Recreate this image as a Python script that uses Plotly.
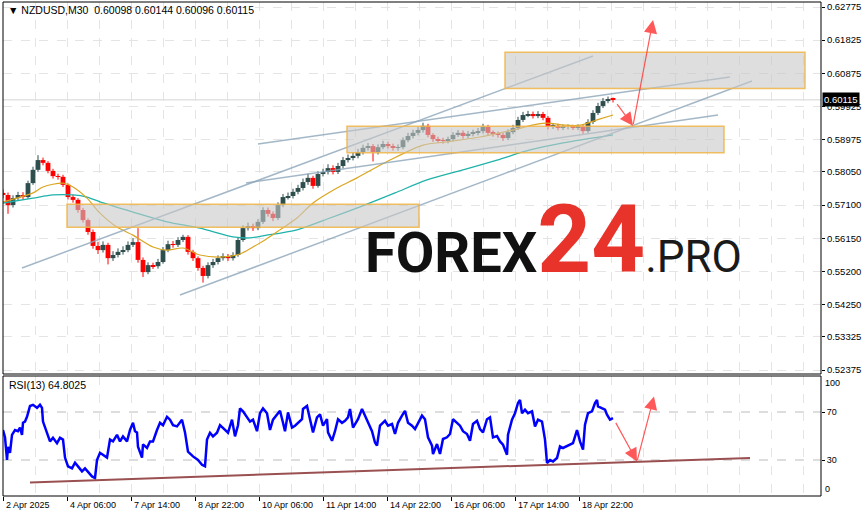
import plotly.graph_objects as go

# ---------------- data ----------------
# time axis: M30 bar index (weekends skipped), labels every 64 bars
tick_bars = [0, 64, 128, 192, 256, 320, 384, 448, 512, 576]
tick_labels = ["2 Apr 2025", "4 Apr 06:00", "7 Apr 14:00", "8 Apr 22:00", "10 Apr 06:00",
               "11 Apr 14:00", "14 Apr 22:00", "16 Apr 06:00", "17 Apr 14:00", "18 Apr 22:00"]

price_ticks = [0.62775, 0.61825, 0.60875, 0.59925, 0.58975, 0.58050,
               0.57100, 0.56150, 0.55200, 0.54250, 0.53325, 0.52375]

# candles, each one groups 5 M30 bars
closes = [0.5739, 0.5710, 0.5730, 0.5739, 0.5733, 0.5773, 0.5811, 0.5839, 0.5831, 0.5808,
          0.5793, 0.5791, 0.5768, 0.5733, 0.5725, 0.5696, 0.5667, 0.5633, 0.5593, 0.5581,
          0.5596, 0.5558, 0.5567, 0.5576, 0.5581, 0.5596, 0.5604, 0.5553, 0.5518, 0.5538,
          0.5535, 0.5547, 0.5581, 0.5598, 0.5596, 0.5610, 0.5619, 0.5576, 0.5558, 0.5530,
          0.5507, 0.5538, 0.5547, 0.5558, 0.5564, 0.5558, 0.5567, 0.5610, 0.5644, 0.5650,
          0.5644, 0.5662, 0.5696, 0.5685, 0.5673, 0.5710, 0.5733, 0.5736, 0.5748, 0.5759,
          0.5776, 0.5788, 0.5765, 0.5799, 0.5805, 0.5816, 0.5805, 0.5822, 0.5839, 0.5845,
          0.5851, 0.5862, 0.5874, 0.5879, 0.5862, 0.5876, 0.5885, 0.5879, 0.5874, 0.5876,
          0.5896, 0.5908, 0.5917, 0.5925, 0.5937, 0.5911, 0.5899, 0.5896, 0.5894, 0.5899,
          0.5911, 0.5917, 0.5908, 0.5914, 0.5917, 0.5922, 0.5934, 0.5917, 0.5914, 0.5911,
          0.5902, 0.5919, 0.5931, 0.5954, 0.5968, 0.5971, 0.5965, 0.5971, 0.5960, 0.5934,
          0.5937, 0.5931, 0.5934, 0.5934, 0.5931, 0.5934, 0.5922, 0.5948, 0.5974, 0.5994,
          0.6008, 0.6014, 0.60115]
highs = [0.5755, 0.5746, 0.5738, 0.5748, 0.5747, 0.5780, 0.5820, 0.5853, 0.5846, 0.5836,
         0.5814, 0.5800, 0.5797, 0.5772, 0.5740, 0.5730, 0.5702, 0.5672, 0.5640, 0.5605,
         0.5606, 0.5602, 0.5578, 0.5586, 0.5592, 0.5606, 0.5615, 0.5644, 0.5560, 0.5546,
         0.5545, 0.5556, 0.5590, 0.5608, 0.5607, 0.5618, 0.5625, 0.5624, 0.5582, 0.5563,
         0.5536, 0.5546, 0.5556, 0.5566, 0.5572, 0.5570, 0.5575, 0.5618, 0.5652, 0.5660,
         0.5657, 0.5670, 0.5704, 0.5703, 0.5692, 0.5718, 0.5742, 0.5746, 0.5757, 0.5768,
         0.5786, 0.5800, 0.5794, 0.5807, 0.5814, 0.5827, 0.5824, 0.5831, 0.5848, 0.5855,
         0.5861, 0.5871, 0.5883, 0.5888, 0.5885, 0.5884, 0.5894, 0.5892, 0.5886, 0.5884,
         0.5904, 0.5917, 0.5926, 0.5934, 0.5946, 0.5943, 0.5916, 0.5906, 0.5903, 0.5906,
         0.5919, 0.5925, 0.5924, 0.5922, 0.5926, 0.5931, 0.5943, 0.5940, 0.5924, 0.5921,
         0.5917, 0.5927, 0.5940, 0.5963, 0.5977, 0.5980, 0.5978, 0.5979, 0.5977, 0.5965,
         0.5945, 0.5943, 0.5941, 0.5941, 0.5940, 0.5941, 0.5939, 0.5956, 0.5982, 0.6003,
         0.6017, 0.6021, 0.6018]
lows = [0.5730, 0.5685, 0.5703, 0.5724, 0.5725, 0.5728, 0.5768, 0.5805, 0.5824, 0.5801,
        0.5786, 0.5783, 0.5762, 0.5726, 0.5717, 0.5688, 0.5660, 0.5625, 0.5585, 0.5570,
        0.5574, 0.5540, 0.5550, 0.5560, 0.5568, 0.5575, 0.5590, 0.5545, 0.5504, 0.5512,
        0.5527, 0.5528, 0.5542, 0.5575, 0.5588, 0.5590, 0.5604, 0.5568, 0.5550, 0.5522,
        0.5488, 0.5500, 0.5530, 0.5540, 0.5551, 0.5550, 0.5551, 0.5562, 0.5605, 0.5637,
        0.5636, 0.5638, 0.5656, 0.5677, 0.5664, 0.5667, 0.5704, 0.5726, 0.5729, 0.5741,
        0.5752, 0.5768, 0.5757, 0.5760, 0.5792, 0.5798, 0.5798, 0.5799, 0.5815, 0.5832,
        0.5838, 0.5844, 0.5855, 0.5866, 0.5835, 0.5855, 0.5870, 0.5872, 0.5866, 0.5866,
        0.5870, 0.5890, 0.5901, 0.5910, 0.5918, 0.5904, 0.5891, 0.5888, 0.5886, 0.5887,
        0.5893, 0.5905, 0.5900, 0.5901, 0.5907, 0.5910, 0.5915, 0.5909, 0.5906, 0.5903,
        0.5894, 0.5896, 0.5913, 0.5925, 0.5948, 0.5962, 0.5958, 0.5959, 0.5953, 0.5927,
        0.5928, 0.5924, 0.5925, 0.5927, 0.5925, 0.5925, 0.5914, 0.5917, 0.5942, 0.5968,
        0.5988, 0.6002, 0.6004]
first_open = 0.5745
opens = [first_open] + closes[:-1]
candle_bars = [5 * i for i in range(len(closes))]

# moving averages
ma_fast_bars = [0, 30, 40, 60, 70, 84, 97, 114, 130, 150, 164, 180, 197, 217, 237, 250, 262,
                277, 294, 310, 334, 354, 387, 420, 444, 477, 510, 534, 544, 562, 577, 594, 610]
ma_fast_vals = [0.5719, 0.5745, 0.5762, 0.5773, 0.5762, 0.5730, 0.5687, 0.5647, 0.5624, 0.5590,
                0.5581, 0.5587, 0.5567, 0.5561, 0.5570, 0.5590, 0.5610, 0.5639, 0.5673, 0.5716,
                0.5759, 0.5788, 0.5839, 0.5882, 0.5891, 0.5905, 0.5925, 0.5942, 0.5945, 0.5939,
                0.5939, 0.5954, 0.5968]
ma_slow_bars = [0, 30, 50, 70, 84, 97, 130, 164, 197, 230, 247, 260, 294, 327, 357, 392, 424,
                460, 494, 527, 560, 610]
ma_slow_vals = [0.5716, 0.5730, 0.5739, 0.5739, 0.5733, 0.5719, 0.5690, 0.5662, 0.5644, 0.5619,
                0.5616, 0.5622, 0.5639, 0.5673, 0.5705, 0.5745, 0.5782, 0.5811, 0.5839, 0.5868,
                0.5888, 0.5911]

# RSI(13)
rsi_bars = [0, 2, 4, 5, 7, 9, 12, 15, 17, 19, 20, 22, 24, 27, 30, 34, 37, 39, 40, 42, 45, 47,
            50, 54, 57, 60, 62, 65, 69, 72, 75, 79, 82, 85, 89, 92, 94, 97, 100, 104, 107, 110,
            114, 117, 120, 124, 127, 130, 132, 134, 135, 139, 140, 144, 147, 150, 154, 157, 160,
            164, 167, 170, 174, 179, 182, 185, 190, 195, 199, 202, 204, 207, 210, 214, 217, 220,
            225, 229, 232, 235, 237, 240, 244, 247, 250, 254, 257, 260, 264, 267, 270, 274, 277,
            280, 282, 285, 289, 292, 295, 299, 300, 304, 307, 310, 314, 317, 320, 324, 325, 329,
            332, 335, 339, 342, 345, 347, 350, 355, 359, 362, 365, 369, 372, 374, 377, 379, 382,
            385, 389, 392, 395, 399, 402, 405, 409, 412, 415, 419, 422, 425, 429, 430, 434, 437,
            440, 444, 447, 450, 454, 457, 460, 464, 467, 470, 474, 477, 480, 484, 487, 490, 494,
            497, 500, 504, 505, 509, 512, 515, 517, 519, 522, 525, 529, 532, 535, 539, 542, 544,
            547, 550, 554, 557, 560, 564, 567, 570, 574, 577, 580, 582, 585, 589, 592, 594, 595,
            599, 602, 604, 607, 610]
rsi_vals = [55, 49, 30, 41, 36, 51, 55, 54, 57, 51, 61, 62, 66, 75, 76, 73.5, 76, 73.5, 62, 57,
            51, 45.5, 48.5, 44, 48.5, 47, 32, 24.7, 23, 27.7, 24.7, 20.5, 23, 20.5, 16.3, 15, 30,
            36, 34.4, 32, 47, 45.5, 51, 45.5, 49.7, 45.5, 55, 61, 54, 53, 41, 32, 43, 40, 45.5,
            45.5, 55, 61, 59, 66, 63.6, 59, 58, 63.6, 53, 37, 33, 30, 26, 24.7, 47, 52.7, 49.7,
            52.7, 59, 56.4, 52.7, 63.6, 49.7, 59, 73, 70.5, 65, 62, 63.6, 54, 69, 73, 69, 55,
            63.6, 68, 71, 61, 54, 69.7, 57, 58.6, 61, 64, 72.5, 75, 64, 53, 65.5, 68, 58.6, 64,
            53, 46, 54, 64, 61, 62.7, 65.5, 72.5, 57, 64, 72.5, 67, 61, 54, 44.6, 42, 58.6, 60,
            62.7, 58.6, 60, 51.7, 61, 67, 71, 61, 58.6, 55.8, 61, 67, 64, 48.9, 42, 35, 43.3,
            35, 47.5, 48.9, 51.7, 64, 61, 58.6, 54, 51.7, 46, 60, 62.7, 55.8, 53, 64, 65.5,
            48.9, 50, 45.5, 42.7, 34.4, 51, 63.6, 69, 77.5, 80, 69, 72, 69, 70.5, 58, 63.6, 62,
            47, 27.5, 30, 28.8, 31.7, 41.4, 40, 41.4, 42.7, 44, 55, 45.5, 38.6, 59.4, 69, 70.5,
            77.5, 80, 74.7, 73, 72, 67.7, 63.6, 64.8]

# analysis drawings
rect_zones = [  # (bar0, bar1, price_low, price_high)
    (502, 802, 0.60440, 0.61478),
    (344, 721, 0.58601, 0.59358),
    (64, 416, 0.56464, 0.57123),
]
trend_lines = [  # (bar0, price0, bar1, price1)
    (19, 0.55298, 590, 0.61372),
    (177, 0.54524, 749, 0.60655),
    (255, 0.58850, 727, 0.60770),
    (243, 0.57733, 715, 0.59681),
]
forecast_price = [(613, 0.60034), (630, 0.59375), (650, 0.62403)]
rsi_trend = (27, 11.3, 747, 31.7)
forecast_rsi = [(612, 62.2), (634, 28.8), (651, 83.0)]
last_price = 0.60115

# ---------------- figure ----------------
W, H = 866, 517
ML, MR, MT, MB = 3, 45, 2, 21
PW, PH = W - ML - MR, H - MT - MB
BULL, BEAR = "#2F4F4F", "#FF0000"


def px2paper_y(py):
    return (H - MB - py) / PH


main_dom = [px2paper_y(374), 1.0]
rsi_dom = [0.0, px2paper_y(376)]

fig = go.Figure()

# candle wicks
for color in (BULL, BEAR):
    wx, wy = [], []
    for b, o, h, l, c in zip(candle_bars, opens, highs, lows, closes):
        if (c >= o) == (color == BULL):
            wx += [b, b, None]
            wy += [l, h, None]
    fig.add_trace(go.Scatter(x=wx, y=wy, mode="lines", line=dict(color=color, width=1),
                             showlegend=False, hoverinfo="skip", xaxis="x", yaxis="y"))
# candle bodies
body_colors = [BULL if c >= o else BEAR for o, c in zip(opens, closes)]
fig.add_trace(go.Bar(x=candle_bars, y=[c - o for o, c in zip(opens, closes)], base=opens,
                     width=4.8, marker=dict(color=body_colors, line=dict(width=0)),
                     showlegend=False, hoverinfo="skip", xaxis="x", yaxis="y"))

fig.add_trace(go.Scatter(x=ma_slow_bars, y=ma_slow_vals, mode="lines",
                         line=dict(color="#20B2AA", width=1.3, shape="spline", smoothing=0.8),
                         showlegend=False, hoverinfo="skip", xaxis="x", yaxis="y"))
fig.add_trace(go.Scatter(x=ma_fast_bars, y=ma_fast_vals, mode="lines",
                         line=dict(color="#DAA520", width=1.2, shape="spline", smoothing=0.8),
                         showlegend=False, hoverinfo="skip", xaxis="x", yaxis="y"))

fig.add_trace(go.Scatter(x=rsi_bars, y=rsi_vals, mode="lines",
                         line=dict(color="#0000FF", width=2.5),
                         showlegend=False, hoverinfo="skip", xaxis="x", yaxis="y2"))

shapes = []
# bid line
shapes.append(dict(type="line", xref="paper", yref="y", x0=0, x1=1, y0=last_price, y1=last_price,
                   line=dict(color="#d4d4d4", width=1), layer="below"))
# RSI levels
for lv in (70, 30):
    shapes.append(dict(type="line", xref="paper", yref="y2", x0=0, x1=1, y0=lv, y1=lv,
                       line=dict(color="#bcbcbc", width=1, dash="dash"), layer="below"))
# trend lines
for b0, p0, b1, p1 in trend_lines:
    shapes.append(dict(type="line", xref="x", yref="y", x0=b0, y0=p0, x1=b1, y1=p1,
                       line=dict(color="rgba(140,165,185,0.8)", width=1.5)))
# zones
for b0, b1, lo, hi in rect_zones:
    shapes.append(dict(type="rect", xref="x", yref="y", x0=b0, x1=b1, y0=lo, y1=hi,
                       fillcolor="rgba(200,200,200,0.6)",
                       line=dict(color="rgba(240,180,70,0.85)", width=1.5)))
# RSI trend
shapes.append(dict(type="line", xref="x", yref="y2", x0=rsi_trend[0], y0=rsi_trend[1],
                   x1=rsi_trend[2], y1=rsi_trend[3], line=dict(color="#9a5050", width=2)))
# panel frames
shapes.append(dict(type="rect", xref="paper", yref="paper", x0=0, x1=1, y0=main_dom[0], y1=main_dom[1],
                   line=dict(color="black", width=1)))
shapes.append(dict(type="rect", xref="paper", yref="paper", x0=0, x1=1, y0=rsi_dom[0], y1=rsi_dom[1],
                   line=dict(color="black", width=1)))

ann = []
font_ui = dict(family="Liberation Sans", size=9, color="black")
font_title = dict(family="Liberation Sans", size=10.5, color="black")
ann.append(dict(xref="paper", yref="paper", x=3 / PW, y=px2paper_y(10), xanchor="left", yanchor="middle",
                text="\u25BC NZDUSD,M30  0.60098 0.60144 0.60096 0.60115", showarrow=False,
                font=font_title))
ann.append(dict(xref="paper", yref="paper", x=4 / PW, y=px2paper_y(385), xanchor="left", yanchor="middle",
                text="RSI(13) 64.8025", showarrow=False, font=font_title))
ann.append(dict(xref="paper", yref="paper", x=1 + 2 / PW, y=px2paper_y(383), xanchor="left",
                yanchor="middle", text="100", showarrow=False, font=font_ui))
ann.append(dict(xref="paper", yref="paper", x=1 + 2 / PW, y=px2paper_y(489), xanchor="left",
                yanchor="middle", text="0", showarrow=False, font=font_ui))
for b, t in zip(tick_bars, tick_labels):
    ann.append(dict(xref="x", yref="paper", x=b + 0.5, y=px2paper_y(505), xanchor="left",
                    yanchor="middle", text=t, showarrow=False, font=font_ui))
# price tag
ann.append(dict(xref="paper", yref="y", x=1 + 1 / PW, y=last_price, xanchor="left", yanchor="middle",
                text="0.60115", showarrow=False, bgcolor="black", borderpad=1,
                font=dict(family="Liberation Sans", size=9.5, color="white")))
# watermark
ann.append(dict(xref="paper", yref="paper", x=(363 - ML) / PW, y=px2paper_y(240), xanchor="left",
                yanchor="middle", showarrow=False,
                text="<b>FOREX</b><span style=\"color:#E8332B;font-size:94px\"><b>24</b></span>"
                     "<span style=\"font-size:44px;color:#1a1a1a\">.PRO</span>",
                font=dict(family="Roboto", size=56, color="#111111")))
# forecast arrows
for (b0, v0), (b1, v1) in zip(forecast_price[:-1], forecast_price[1:]):
    ann.append(dict(xref="x", yref="y", axref="x", ayref="y", x=b1, y=v1, ax=b0, ay=v0, text="",
                    showarrow=True, arrowhead=2, arrowsize=2.2, arrowwidth=1.2,
                    arrowcolor="rgba(255,60,60,0.85)"))
for (b0, v0), (b1, v1) in zip(forecast_rsi[:-1], forecast_rsi[1:]):
    ann.append(dict(xref="x", yref="y2", axref="x", ayref="y2", x=b1, y=v1, ax=b0, ay=v0, text="",
                    showarrow=True, arrowhead=2, arrowsize=2.2, arrowwidth=1.2,
                    arrowcolor="rgba(255,60,60,0.85)"))

grid_c = "#e4e4e4"
fig.update_layout(
    width=W, height=H, margin=dict(l=ML, r=MR, t=MT, b=MB),
    paper_bgcolor="white", plot_bgcolor="white",
    font=font_ui, showlegend=False, barmode="overlay",
    shapes=shapes, annotations=ann,
    xaxis=dict(domain=[0, 1], anchor="y2", range=[0, PW], tickmode="array",
               tickvals=tick_bars, ticktext=[""] * len(tick_bars), ticks="outside", ticklen=4,
               tickcolor="black", showgrid=True, gridcolor=grid_c, griddash="dash",
               minor=dict(dtick=32, tick0=0, showgrid=True, gridcolor=grid_c, griddash="dash"),
               zeroline=False, showline=False, fixedrange=True),
    yaxis=dict(domain=main_dom, anchor="x", side="right",
               range=[0.62976 - 0.0002865 * 374, 0.62976 - 0.0002865 * 2],
               tickmode="array", tickvals=price_ticks, ticktext=[f"{v:.5f}" for v in price_ticks],
               ticks="outside", ticklen=3, tickcolor="black", showgrid=True, gridcolor=grid_c,
               griddash="dash", zeroline=False, showline=False, tickfont=dict(size=9.5)),
    yaxis2=dict(domain=rsi_dom, anchor="x", side="right", range=[0, 100], tickmode="array",
                tickvals=[70, 30], ticktext=["70", "30"], ticks="outside", ticklen=3,
                tickcolor="black", showgrid=False, zeroline=False, showline=False),
)

fig.write_html("out.html", config={"displayModeBar": False},
               post_script="document.body.style.margin='0';document.body.style.padding='0';")
